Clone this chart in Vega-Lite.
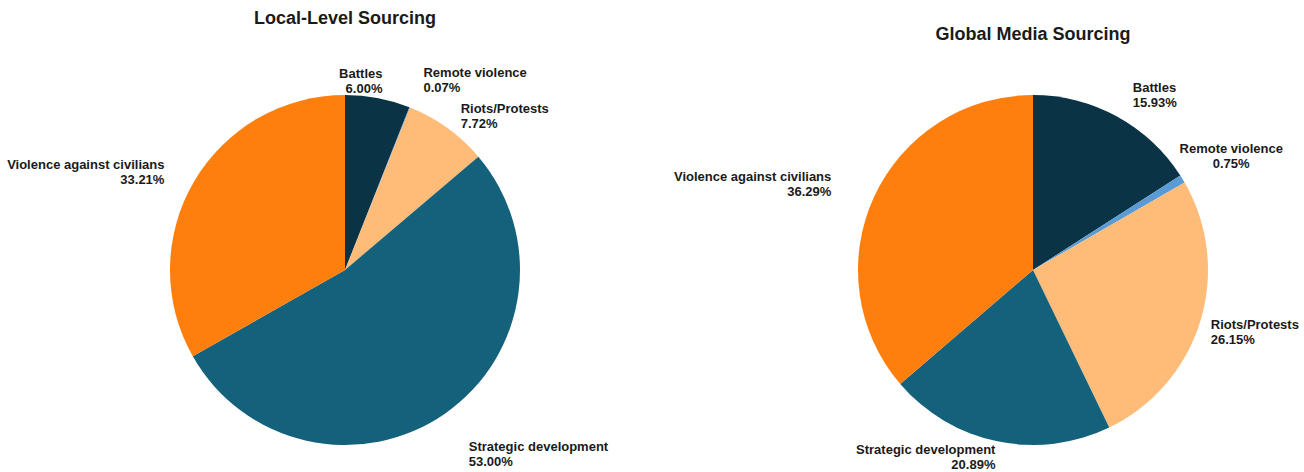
{
  "$schema": "https://vega.github.io/schema/vega-lite/v6.json",
  "padding": {"left": 7, "top": 10, "right": 5, "bottom": 5},
  "bounds": "flush",
  "spacing": 288,
  "config": {
    "view": {"stroke": null},
    "font": "Liberation Sans",
    "title": {"fontSize": 18, "fontWeight": "bold", "color": "#1a1a1a", "frame": "group", "anchor": "middle"}
  },
  "datasets": {
    "local": [
      {"event": "Battles", "pct": 6.00},
      {"event": "Remote violence", "pct": 0.07},
      {"event": "Riots/Protests", "pct": 7.72},
      {"event": "Strategic development", "pct": 53.00},
      {"event": "Violence against civilians", "pct": 33.21}
    ],
    "global": [
      {"event": "Battles", "pct": 15.93},
      {"event": "Remote violence", "pct": 0.75},
      {"event": "Riots/Protests", "pct": 26.15},
      {"event": "Strategic development", "pct": 20.89},
      {"event": "Violence against civilians", "pct": 36.29}
    ]
  },
  "hconcat": [
    {
      "width": 400,
      "height": 350,
      "data": {"name": "local"},
      "title": {"text": "Local-Level Sourcing", "offset": 39},
      "transform": [
        {"calculate": "datum.event + '\\n' + format(datum.pct, '.2f') + '%'", "as": "label"}
      ],
      "encoding": {
        "theta": {"field": "pct", "type": "quantitative", "stack": true},
        "color": {
          "field": "event", "type": "nominal", "legend": null,
          "scale": {
            "domain": ["Battles", "Remote violence", "Riots/Protests", "Strategic development", "Violence against civilians"],
            "range": ["#0a3446", "#5b9bd5", "#ffbb78", "#13617a", "#ff7f0e"]
          }
        }
      },
      "layer": [
        {"mark": {"type": "arc", "outerRadius": 175}},
        {
          "mark": {
            "type": "text", "lineBreak": "\n", "fontSize": 13, "fontWeight": "bold", "fill": "#1a1a1a", "baseline": "middle",
            "radius": {"expr": "datum.event === 'Battles' ? 200 : datum.event === 'Remote violence' ? 212 : datum.event === 'Riots/Protests' ? 198 : datum.event === 'Strategic development' ? 216 : 209"},
            "align": {"expr": "datum.event === 'Battles' || datum.event === 'Violence against civilians' ? 'right' : 'left'"}
          },
          "encoding": {"text": {"field": "label", "type": "nominal"}}
        }
      ]
    },
    {
      "width": 400,
      "height": 350,
      "data": {"name": "global"},
      "title": {"text": "Global Media Sourcing", "offset": 38},
      "transform": [
        {"calculate": "datum.event + '\\n' + format(datum.pct, '.2f') + '%'", "as": "label"}
      ],
      "encoding": {
        "theta": {"field": "pct", "type": "quantitative", "stack": true},
        "color": {
          "field": "event", "type": "nominal", "legend": null,
          "scale": {
            "domain": ["Battles", "Remote violence", "Riots/Protests", "Strategic development", "Violence against civilians"],
            "range": ["#0a3446", "#5b9bd5", "#ffbb78", "#13617a", "#ff7f0e"]
          }
        }
      },
      "layer": [
        {"mark": {"type": "arc", "outerRadius": 175}},
        {
          "mark": {
            "type": "text", "lineBreak": "\n", "fontSize": 13, "fontWeight": "bold", "fill": "#1a1a1a", "baseline": "middle",
            "radius": {"expr": "datum.event === 'Battles' ? 208 : datum.event === 'Remote violence' ? 232 : datum.event === 'Violence against civilians' ? 222 : datum.event === 'Strategic development' ? 184 : 186"},
            "align": {"expr": "datum.event === 'Remote violence' ? 'center' : datum.event === 'Battles' || datum.event === 'Riots/Protests' ? 'left' : 'right'"}
          },
          "encoding": {"text": {"field": "label", "type": "nominal"}}
        }
      ]
    }
  ]
}
